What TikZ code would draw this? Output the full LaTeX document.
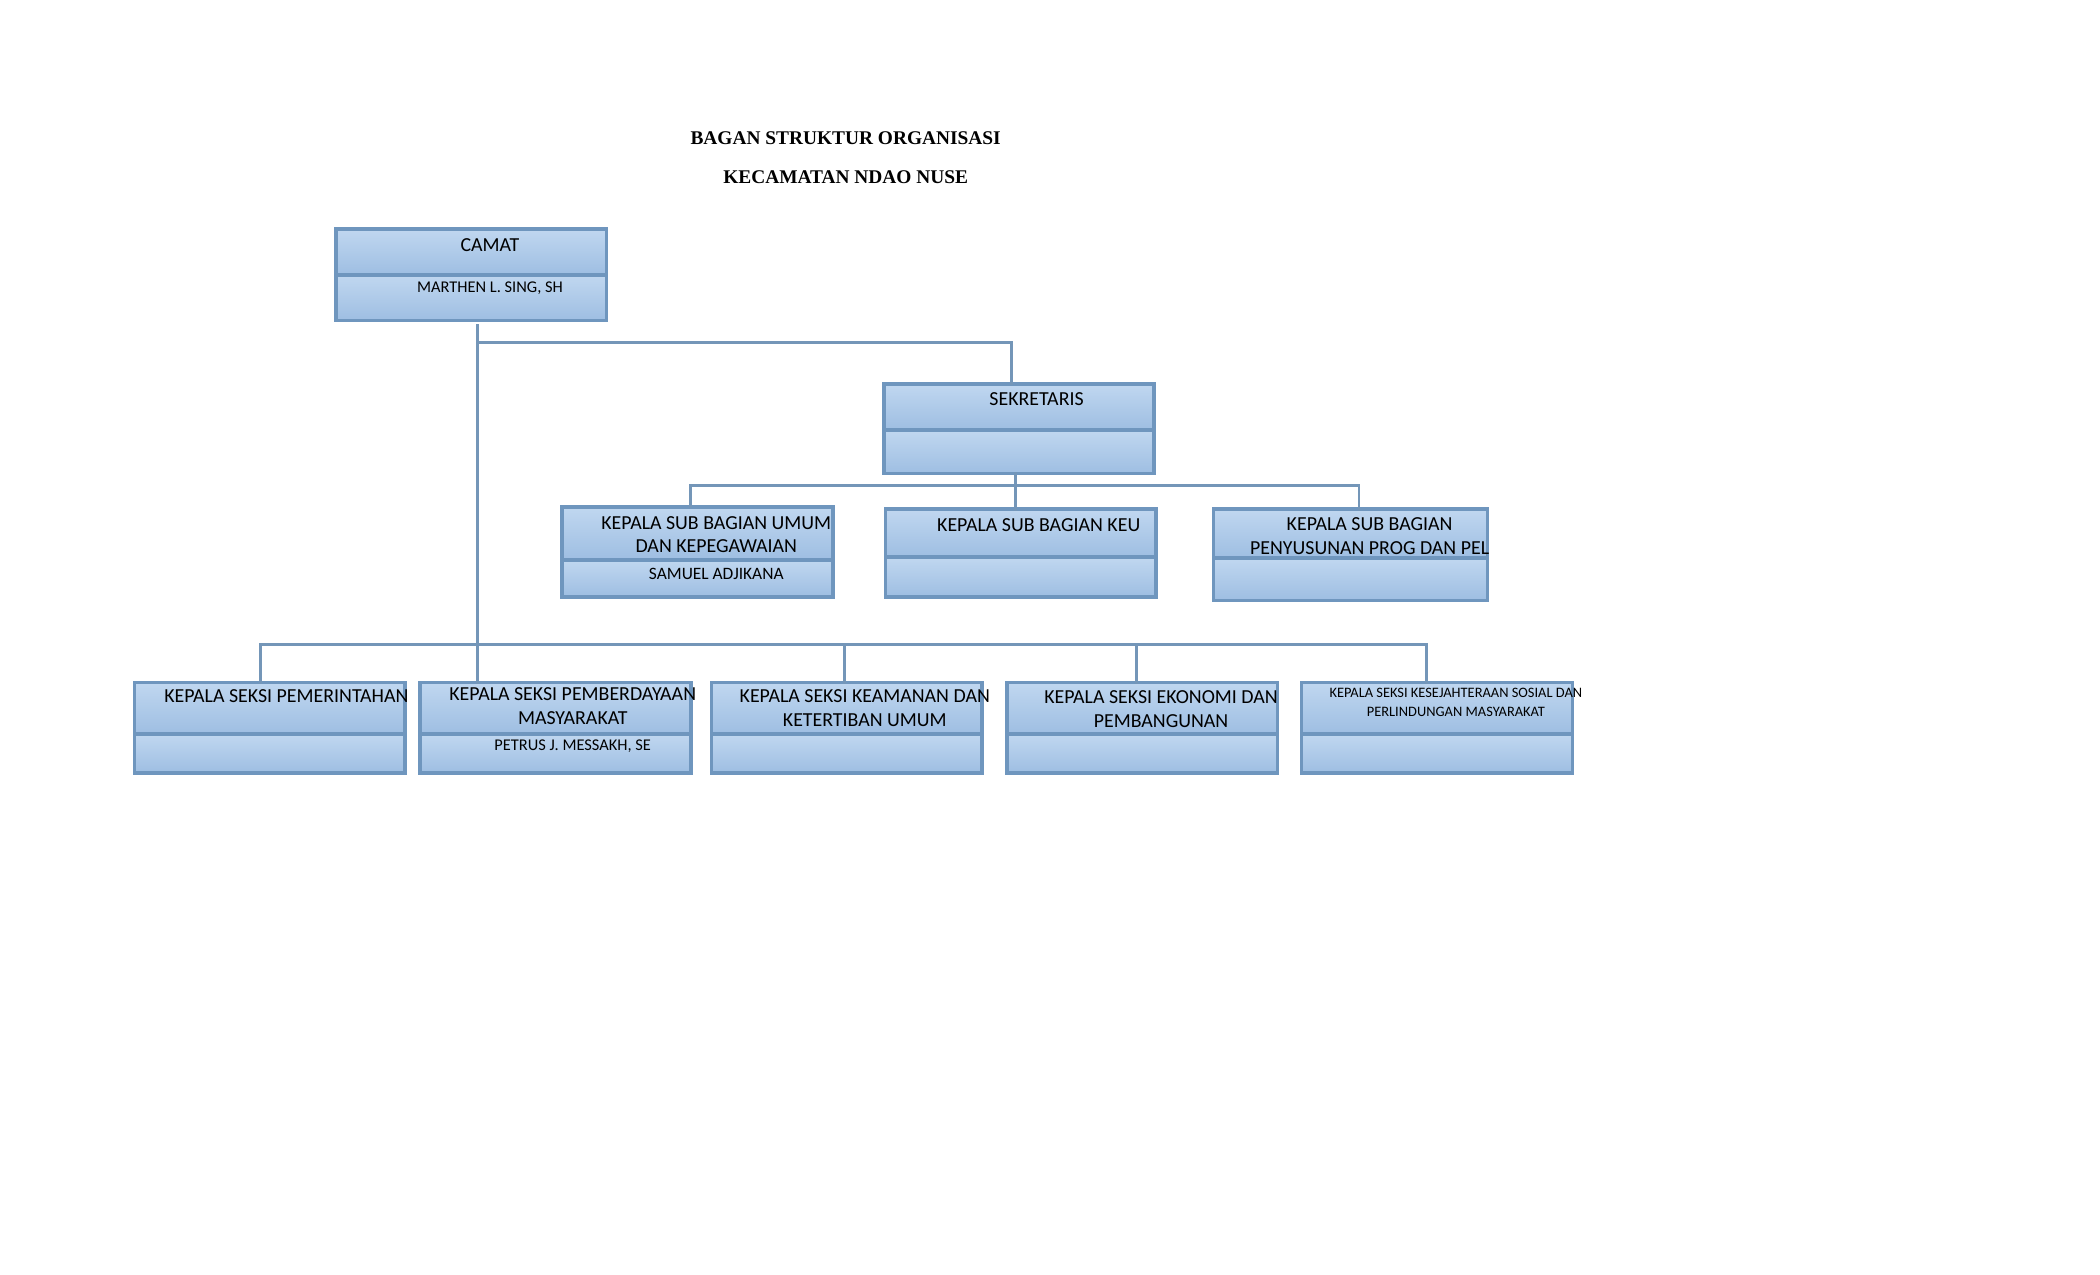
\documentclass[tikz,border=0pt]{standalone}
\usepackage{fontspec}
\setmainfont{Carlito}
\newfontfamily\titlefont{Liberation Serif}
\usetikzlibrary{positioning}
\definecolor{boxline}{RGB}{111,150,190}
\definecolor{boxtop}{RGB}{192,215,240}
\definecolor{boxbot}{RGB}{158,190,226}
\definecolor{linkcol}{RGB}{116,150,184}

\begin{document}
\begin{tikzpicture}[
  part/.style={draw=boxline,line width=1.4pt,top color=boxtop,bottom color=boxbot,
    minimum width=3.83cm,inner sep=0pt,outer sep=0pt},
  txt/.style={font=\fontsize{8}{9.6}\selectfont,align=center,inner sep=0pt},
  nm/.style={font=\fontsize{6.6}{8}\selectfont,inner sep=0pt},
  ttl/.style={font=\titlefont\bfseries\fontsize{7.8}{9}\selectfont,inner sep=0pt},
  link/.style={draw=linkcol,line width=1.2pt,line cap=rect}
]
\useasboundingbox[fill=white] (0,0) rectangle (29.7,-18.03);

% judul
\node[ttl] (judul1) at (11.96,-1.95) {BAGAN STRUKTUR ORGANISASI};
\node[ttl] (judul2) at (11.96,-2.50) {KECAMATAN NDAO NUSE};

% camat dan sekretaris
\node[part,anchor=north west,minimum height=0.65cm] (camat) at (4.75,-3.24) {};
\node[part,minimum height=0.64cm,below=0pt of camat] (camat2) {};
\node[part,anchor=north west,minimum height=0.65cm,minimum width=3.82cm] (sekr) at (12.50,-5.43) {};
\node[part,minimum height=0.62cm,minimum width=3.82cm,below=0pt of sekr] (sekr2) {};

% sub bagian
\node[part,anchor=north west,minimum height=0.75cm] (umum) at (7.95,-7.17) {};
\node[part,minimum height=0.52cm,below=0pt of umum] (umum2) {};
\node[part,anchor=north west,minimum height=0.68cm] (keu) at (12.52,-7.20) {};
\node[part,minimum height=0.56cm,below=0pt of keu] (keu2) {};
\node[part,anchor=north west,minimum height=0.69cm,minimum width=3.88cm] (prog) at (17.16,-7.20) {};
\node[part,minimum height=0.60cm,minimum width=3.88cm,below=0pt of prog] (prog2) {};

% seksi
\foreach \n/\x in {pemr/1.90,pemb/5.94,keam/10.06,ekon/14.24,kesj/18.41}{
  \node[part,anchor=north west,minimum height=0.73cm] (\n) at (\x,-9.65) {};
  \node[part,minimum height=0.55cm,below=0pt of \n] (\n2) {};
}

% garis
\coordinate (trunk) at (6.75,-4.60);
\draw[link] (trunk) -- (trunk |- pemb.north);
\draw[link] (trunk |- 0,-4.85) -- (14.30,-4.85) -- (14.30,0 |- sekr.north);

\coordinate (bus1) at (14.36,-6.87);
\draw[link] (bus1 |- sekr2.south) -- (bus1);
\draw[link] (9.76,-6.87) -- (19.22,-6.87);
\foreach \n/\x in {umum/9.76,keu/14.36,prog/19.22}
  \draw[link] (\x,-6.87) -- (\x,0 |- \n.north);

\coordinate (bus2) at (3.69,-9.12);
\draw[link] (bus2) -- (20.18,-9.12);
\foreach \n/\x in {pemr/3.69,keam/11.94,ekon/16.08,kesj/20.18}
  \draw[link] (\x,-9.12) -- (\x,0 |- \n.north);

% tulisan
\node[txt] (camat-t) at (6.93,-3.47) {CAMAT};
\node[nm] (camat-n) at (6.93,-4.07) {MARTHEN L. SING, SH};
\node[txt] (sekr-t) at (14.66,-5.64) {SEKRETARIS};

\node[txt] (umum-t) at (10.13,-7.56) {KEPALA SUB BAGIAN UMUM\\DAN KEPEGAWAIAN};
\node[nm,font=\fontsize{7}{8}\selectfont] (umum-n) at (10.13,-8.12) {SAMUEL ADJIKANA};
\node[txt] (keu-t) at (14.69,-7.42) {KEPALA SUB BAGIAN KEU};
\node[txt] (prog-t) at (19.37,-7.58) {KEPALA SUB BAGIAN\\PENYUSUNAN PROG DAN PEL};

\node[txt] (pemr-t) at (4.05,-9.85) {KEPALA SEKSI PEMERINTAHAN};
\node[txt] (pemb-t) at (8.10,-9.99) {KEPALA SEKSI PEMBERDAYAAN\\MASYARAKAT};
\node[nm] (pemb-n) at (8.10,-10.55) {PETRUS J. MESSAKH, SE};
\node[txt] (keam-t) at (12.23,-10.02) {KEPALA SEKSI KEAMANAN DAN\\KETERTIBAN UMUM};
\node[txt] (ekon-t) at (16.42,-10.03) {KEPALA SEKSI EKONOMI DAN\\PEMBANGUNAN};
\node[txt,font=\fontsize{5.8}{7.6}\selectfont] (kesj-t) at (20.59,-9.93) {KEPALA SEKSI KESEJAHTERAAN SOSIAL DAN\\PERLINDUNGAN MASYARAKAT};

\end{tikzpicture}
\end{document}
